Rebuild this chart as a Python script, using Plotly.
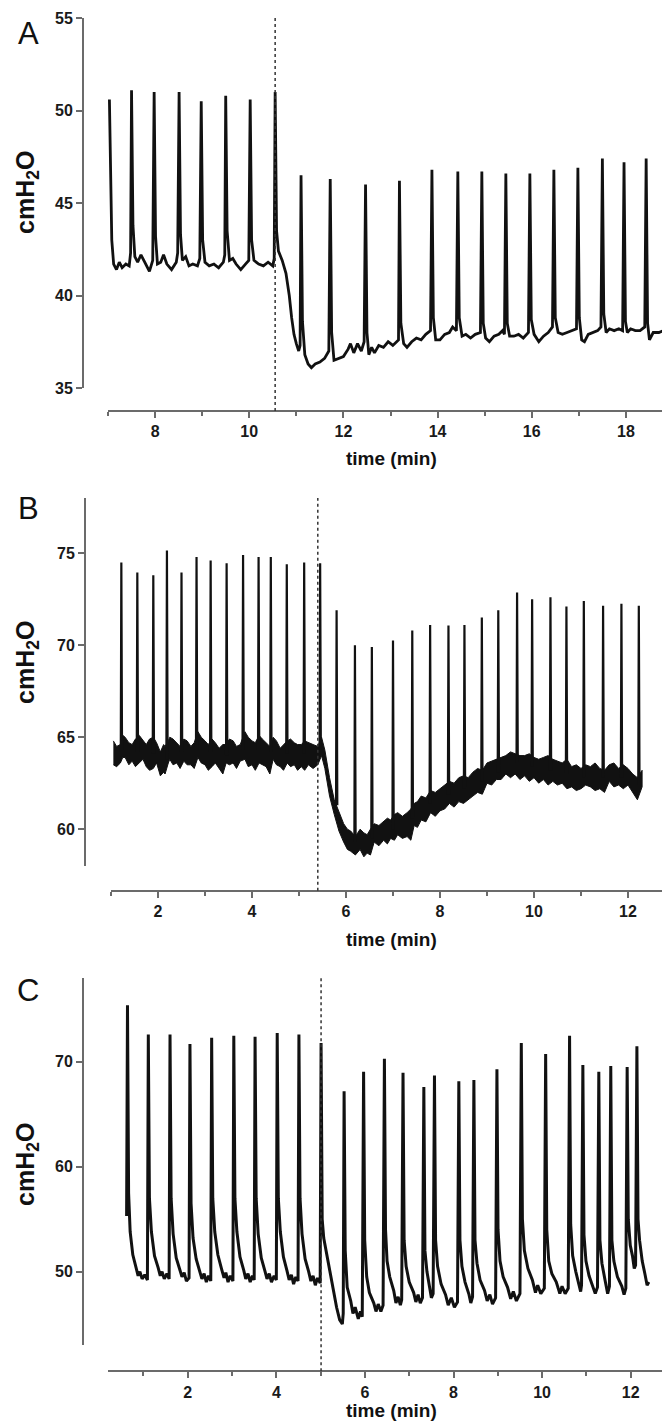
import plotly.graph_objects as go

# ---------------- DATA ----------------
# Panel A
A_spike_t = [7.03, 7.50, 7.98, 8.51, 8.98, 9.50, 10.02, 10.55, 11.10, 11.72, 12.47, 13.19,
             13.88, 14.43, 14.94, 15.45, 15.96, 16.47, 16.98, 17.50, 17.96, 18.43, 18.94]
A_spike_peak = [50.6, 51.1, 51.0, 51.0, 50.5, 50.8, 50.6, 51.0, 46.5, 46.3, 46.0, 46.2,
                46.8, 46.7, 46.7, 46.6, 46.6, 46.8, 46.9, 47.4, 47.2, 47.4, 47.4]
A_base = [
    (7.08, 43.0), (7.12, 41.7), (7.18, 41.4), (7.24, 41.8), (7.30, 41.5), (7.38, 41.7), (7.45, 41.6), (7.48, 42.3),
    (7.53, 43.8), (7.57, 42.1), (7.63, 41.8), (7.70, 42.2), (7.78, 41.8), (7.88, 41.3), (7.95, 41.9),
    (8.01, 43.2), (8.05, 41.7), (8.12, 41.8), (8.18, 42.2), (8.25, 41.7), (8.35, 41.4), (8.45, 41.8), (8.48, 42.3),
    (8.54, 43.3), (8.58, 41.9), (8.65, 42.1), (8.72, 41.6), (8.80, 41.7), (8.90, 41.6), (8.95, 42.0),
    (9.01, 43.0), (9.06, 41.8), (9.15, 41.6), (9.25, 41.7), (9.35, 41.5), (9.45, 41.8), (9.48, 42.2),
    (9.53, 43.5), (9.58, 41.9), (9.65, 42.0), (9.72, 41.7), (9.82, 41.4), (9.92, 41.7), (9.99, 41.9),
    (10.05, 43.0), (10.10, 41.9), (10.20, 41.7), (10.30, 41.6), (10.40, 41.8), (10.50, 41.6), (10.53, 42.0),
    (10.58, 43.5), (10.62, 42.4), (10.70, 41.9), (10.78, 41.2), (10.85, 40.0), (10.90, 38.8), (10.95, 37.9),
    (11.00, 37.4), (11.05, 37.0), (11.08, 37.3),
    (11.13, 38.6), (11.18, 36.8), (11.25, 36.3), (11.32, 36.1), (11.40, 36.3), (11.50, 36.4), (11.60, 36.6), (11.69, 37.0),
    (11.75, 38.0), (11.80, 36.5), (11.90, 36.6), (12.00, 36.7), (12.10, 37.1), (12.15, 37.4), (12.22, 36.9),
    (12.30, 37.4), (12.38, 37.0), (12.44, 37.5),
    (12.50, 38.0), (12.54, 36.8), (12.60, 37.2), (12.66, 36.9), (12.75, 37.3), (12.85, 37.2), (12.95, 37.5),
    (13.05, 37.3), (13.12, 37.5), (13.17, 37.6),
    (13.22, 38.5), (13.28, 37.4), (13.35, 37.2), (13.45, 37.5), (13.55, 37.7), (13.65, 37.6), (13.75, 37.9), (13.85, 38.1),
    (13.91, 38.8), (13.96, 37.6), (14.05, 37.6), (14.15, 37.9), (14.25, 38.0), (14.32, 38.3), (14.40, 38.1),
    (14.46, 38.8), (14.52, 37.8), (14.60, 37.9), (14.70, 37.7), (14.80, 37.9), (14.91, 38.0),
    (14.97, 38.5), (15.02, 37.7), (15.10, 37.5), (15.20, 37.8), (15.30, 37.9), (15.38, 38.1), (15.42, 37.9),
    (15.48, 38.5), (15.53, 37.8), (15.62, 37.8), (15.72, 37.9), (15.82, 37.7), (15.93, 38.0),
    (15.99, 38.7), (16.05, 37.9), (16.15, 37.5), (16.25, 37.8), (16.35, 38.0), (16.44, 38.3),
    (16.50, 38.8), (16.56, 38.0), (16.65, 37.9), (16.75, 38.0), (16.85, 38.1), (16.95, 38.2),
    (17.01, 38.8), (17.06, 37.6), (17.12, 37.5), (17.20, 37.9), (17.30, 38.0), (17.40, 38.1), (17.47, 38.3),
    (17.53, 39.0), (17.58, 38.0), (17.65, 38.2), (17.75, 38.1), (17.85, 38.2), (17.93, 38.1),
    (17.99, 38.6), (18.03, 38.0), (18.10, 38.2), (18.20, 38.1), (18.30, 38.1), (18.40, 38.3),
    (18.46, 38.5), (18.50, 37.6), (18.58, 38.0), (18.70, 38.0), (18.80, 38.1), (18.91, 38.2),
    (18.97, 38.6), (19.00, 38.3),
]

# Panel B
B_spike_t = [1.22, 1.56, 1.90, 2.19, 2.50, 2.82, 3.12, 3.46, 3.81, 4.14, 4.40, 4.74, 5.11, 5.45,
             5.80, 6.19, 6.55, 7.00, 7.41, 7.79, 8.18, 8.52, 8.89, 9.24, 9.64, 9.96, 10.35,
             10.69, 11.06, 11.47, 11.86, 12.23]
B_spike_peak = [74.5, 73.95, 73.8, 75.15, 73.95, 74.8, 74.6, 74.45, 74.9, 74.8, 74.8, 74.4, 74.5, 74.45,
                71.9, 70.0, 69.9, 70.25, 70.8, 71.1, 71.07, 71.1, 71.5, 71.9, 72.86, 72.5, 72.6,
                72.1, 72.4, 72.15, 72.25, 72.15]
B_spike_foot = [64.2, 64.2, 64.1, 63.8, 64.2, 64.3, 64.2, 64.0, 64.3, 64.3, 64.2, 64.1, 64.1, 64.3,
                61.3, 59.3, 59.5, 60.0, 60.6, 61.4, 61.9, 62.2, 62.6, 63.1, 63.6, 63.4, 63.2,
                63.0, 62.8, 62.8, 62.8, 62.4]
B_band_t = [1.05, 1.12, 1.20, 1.25, 1.30, 1.38, 1.45, 1.52, 1.60, 1.68, 1.75, 1.82, 1.90, 1.97,
            2.05, 2.12, 2.15, 2.22, 2.25, 2.32, 2.40, 2.47, 2.55, 2.62, 2.70, 2.77, 2.85, 2.92,
            3.00, 3.07, 3.15, 3.22, 3.30, 3.38, 3.45, 3.52, 3.60, 3.67, 3.75, 3.85, 3.92, 4.00,
            4.07, 4.15, 4.22, 4.30, 4.38, 4.45, 4.52, 4.60, 4.67, 4.75, 4.82, 4.90, 4.97,
            5.05, 5.12, 5.20, 5.30, 5.40, 5.48, 5.55, 5.65, 5.75, 5.85, 5.95, 6.03, 6.10, 6.20,
            6.30, 6.38, 6.45, 6.52, 6.60, 6.70, 6.80, 6.88, 6.95, 7.03, 7.10, 7.20, 7.30, 7.38,
            7.45, 7.52, 7.60, 7.70, 7.80, 7.90, 8.00, 8.10, 8.20, 8.30, 8.40, 8.50, 8.60, 8.70,
            8.80, 8.90, 9.00, 9.10, 9.20, 9.30, 9.40, 9.50, 9.60, 9.70, 9.80, 9.90, 10.00,
            10.10, 10.20, 10.30, 10.40, 10.50, 10.60, 10.70, 10.80, 10.90, 11.00, 11.10, 11.20,
            11.30, 11.40, 11.50, 11.60, 11.70, 11.80, 11.90, 12.00, 12.10, 12.20, 12.30]
B_band_lo = [63.5, 63.4, 63.6, 63.9, 63.9, 63.5, 63.7, 63.4, 63.6, 63.8, 63.4, 63.2, 63.3, 63.6,
             62.9, 63.1, 63.0, 63.6, 63.8, 63.5, 63.6, 63.3, 63.7, 63.5, 63.5, 63.3, 63.9, 63.6,
             63.5, 63.2, 63.4, 63.6, 63.3, 63.0, 63.6, 63.5, 63.6, 63.3, 63.7, 63.8, 63.4, 63.5,
             63.2, 63.6, 63.5, 63.4, 63.0, 63.8, 63.5, 63.4, 63.2, 63.6, 63.4, 63.5, 63.2,
             63.4, 63.2, 63.5, 63.3, 63.5, 64.0, 63.3, 61.8, 60.8, 59.9, 59.3, 58.9, 58.8, 58.6,
             58.9, 58.5, 58.7, 58.6, 59.3, 59.1, 59.4, 59.2, 59.5, 59.4, 59.7, 59.5, 59.6, 59.4,
             60.2, 60.1, 60.5, 60.4, 60.9, 60.7, 61.0, 61.1, 61.4, 61.2, 61.5, 61.4, 61.6, 61.8,
             62.0, 61.9, 62.5, 62.4, 62.7, 62.7, 63.0, 62.8, 63.0, 62.7, 62.9, 62.6, 62.8,
             62.5, 62.7, 62.4, 62.6, 62.4, 62.5, 62.2, 62.3, 62.1, 62.2, 62.4, 62.3,
             62.1, 62.2, 62.0, 62.6, 62.3, 62.4, 62.2, 62.4, 62.0, 61.6, 62.3]
B_band_hi = [64.8, 64.5, 64.6, 65.1, 65.0, 64.7, 64.6, 64.9, 65.1, 64.8, 64.6, 64.9, 65.0, 64.7,
             64.2, 64.6, 64.5, 64.8, 65.0, 64.9, 64.7, 64.5, 64.9, 64.8, 64.5, 64.7, 65.3, 65.0,
             64.8, 64.6, 64.9, 64.7, 64.4, 64.6, 64.6, 64.9, 64.8, 64.5, 64.6, 65.3, 65.0, 64.8,
             64.7, 65.1, 64.9, 64.7, 64.5, 65.0, 64.8, 64.4, 64.6, 64.8, 64.9, 64.7, 64.6,
             64.6, 64.8, 64.7, 64.6, 64.5, 65.0, 64.3, 62.8, 61.6, 61.0, 60.3, 60.0, 59.9, 59.6,
             60.0, 59.8, 59.7, 60.0, 60.3, 60.2, 60.4, 60.6, 60.5, 60.8, 60.9, 60.7, 60.9, 61.1,
             61.4, 61.5, 61.8, 61.7, 62.1, 62.0, 62.2, 62.4, 62.6, 62.5, 62.8, 62.9, 62.8, 63.1,
             63.3, 63.2, 63.6, 63.7, 63.8, 63.9, 64.0, 64.2, 64.1, 64.0, 64.0, 64.1, 63.9,
             63.8, 63.9, 64.0, 63.8, 63.7, 63.6, 63.8, 63.4, 63.5, 63.3, 63.5, 63.4,
             63.6, 63.3, 63.2, 63.5, 63.6, 63.3, 63.5, 63.3, 63.0, 62.8, 63.2]

# Panel C
C_spike_t = [0.64, 1.11, 1.60, 2.05, 2.54, 3.04, 3.52, 4.02, 4.51, 5.01, 5.53, 5.97, 6.44, 6.86,
             7.33, 7.57, 8.12, 8.46, 8.98, 9.53, 10.08, 10.62, 10.92, 11.28, 11.55, 11.92, 12.14]
C_spike_peak = [75.4, 72.6, 72.6, 71.7, 72.3, 72.5, 72.4, 72.75, 72.6, 71.8, 67.2, 69.05, 70.3, 68.96,
                67.6, 68.7, 68.16, 68.26, 69.3, 71.8, 70.76, 72.5, 69.7, 69.05, 69.6, 69.5, 71.5]
C_base = [
    (0.62, 55.3),
    (0.665, 57.5), (0.70, 53.8), (0.76, 51.6), (0.83, 50.4), (0.88, 49.6), (0.92, 50.0), (0.97, 49.3), (1.03, 49.7), (1.09, 49.2),
    (1.135, 57.0), (1.18, 53.8), (1.25, 51.5), (1.33, 50.4), (1.38, 49.6), (1.42, 50.0), (1.47, 49.3), (1.53, 49.8), (1.58, 49.3),
    (1.625, 57.0), (1.67, 53.6), (1.74, 51.3), (1.82, 50.2), (1.87, 49.5), (1.92, 49.9), (1.97, 49.1), (2.03, 49.4),
    (2.075, 56.5), (2.12, 53.2), (2.19, 51.2), (2.27, 50.1), (2.32, 49.3), (2.37, 49.8), (2.42, 49.0), (2.47, 49.6), (2.52, 49.1),
    (2.565, 57.0), (2.61, 53.8), (2.68, 51.6), (2.76, 50.3), (2.82, 49.4), (2.86, 49.9), (2.91, 49.0), (2.96, 49.6), (3.02, 49.1),
    (3.065, 57.0), (3.11, 53.8), (3.18, 51.4), (3.26, 50.2), (3.31, 49.3), (3.36, 49.8), (3.41, 49.0), (3.46, 49.6), (3.50, 49.2),
    (3.545, 57.0), (3.59, 53.6), (3.66, 51.3), (3.74, 50.1), (3.79, 49.3), (3.84, 49.8), (3.89, 49.0), (3.95, 49.6), (4.00, 49.2),
    (4.045, 57.0), (4.09, 53.8), (4.16, 51.4), (4.24, 50.1), (4.29, 49.2), (4.34, 49.7), (4.39, 48.8), (4.44, 49.5), (4.49, 49.1),
    (4.535, 57.0), (4.58, 53.6), (4.65, 51.2), (4.73, 50.0), (4.78, 49.1), (4.83, 49.6), (4.88, 48.7), (4.93, 49.4), (4.99, 48.9),
    (5.035, 55.0), (5.07, 53.2), (5.12, 52.0), (5.20, 50.3), (5.28, 48.3), (5.36, 46.6), (5.43, 45.4),
    (5.49, 45.0), (5.51, 46.0),
    (5.555, 52.0), (5.60, 48.5), (5.68, 47.2), (5.73, 46.0), (5.78, 46.6), (5.85, 45.5), (5.90, 46.2), (5.94, 45.7),
    (5.995, 53.0), (6.04, 49.5), (6.10, 48.0), (6.20, 47.0), (6.25, 46.2), (6.30, 46.9), (6.36, 46.2), (6.41, 46.8),
    (6.465, 54.0), (6.50, 51.0), (6.56, 49.5), (6.65, 48.2), (6.70, 47.0), (6.75, 47.6), (6.80, 46.8), (6.83, 47.3),
    (6.885, 53.0), (6.93, 50.5), (7.00, 49.0), (7.10, 48.0), (7.15, 47.1), (7.20, 47.8), (7.25, 47.0), (7.30, 47.5),
    (7.355, 52.0), (7.40, 50.0), (7.46, 48.5), (7.50, 47.5), (7.54, 47.9),
    (7.595, 53.0), (7.64, 50.5), (7.72, 48.8), (7.82, 47.8), (7.88, 46.8), (7.95, 47.5), (8.02, 46.6), (8.09, 47.1),
    (8.145, 53.0), (8.19, 50.5), (8.26, 49.0), (8.35, 47.8), (8.39, 47.0), (8.43, 47.6),
    (8.485, 53.0), (8.53, 50.8), (8.60, 49.2), (8.70, 48.2), (8.76, 47.2), (8.82, 47.8), (8.88, 46.9), (8.95, 47.5),
    (9.005, 54.0), (9.05, 51.0), (9.12, 49.5), (9.22, 48.5), (9.29, 47.4), (9.35, 48.1), (9.42, 47.2), (9.50, 47.9),
    (9.555, 55.0), (9.60, 52.0), (9.68, 50.3), (9.78, 49.2), (9.85, 48.0), (9.90, 48.7), (9.97, 47.9), (10.05, 48.4),
    (10.105, 54.0), (10.15, 51.0), (10.22, 49.8), (10.32, 49.0), (10.40, 47.9), (10.45, 48.6), (10.52, 47.9), (10.59, 48.4),
    (10.645, 54.5), (10.69, 51.5), (10.76, 50.0), (10.84, 48.8), (10.87, 48.1), (10.89, 48.7),
    (10.945, 53.5), (10.99, 51.0), (11.06, 49.6), (11.15, 48.6), (11.20, 47.9), (11.25, 48.5),
    (11.305, 53.0), (11.35, 50.8), (11.42, 49.2), (11.48, 47.9), (11.52, 48.6),
    (11.575, 53.0), (11.62, 51.0), (11.70, 49.5), (11.80, 48.6), (11.85, 47.8), (11.89, 48.4),
    (11.945, 55.0), (11.99, 52.5), (12.04, 51.5), (12.08, 50.3), (12.11, 50.6),
    (12.165, 55.0), (12.20, 53.0), (12.26, 51.0), (12.32, 49.8), (12.37, 48.7), (12.41, 49.0),
]

# Event markers (dashed vertical lines), one per panel
event_t = [10.55, 5.40, 5.01]
panel_labels = ["A", "B", "C"]
x_ranges = [[7, 19], [1, 13], [0.2, 13.0]]
y_ranges = [[35, 55], [58, 78], [43, 78]]
y_dticks = [5, 5, 10]
x_title = "time (min)"
y_title = "cmH<sub>2</sub>O"

# ---------------- FIGURE ----------------
W, H = 670, 1422
FONT = "Liberation Sans, Arial, Helvetica, sans-serif"
AX = "#6b6b6b"
TRACE = "#111111"


def merge(spike_t, spike_peak, base):
    pts = sorted(list(zip(spike_t, spike_peak)) + list(base), key=lambda p: p[0])
    return [p[0] for p in pts], [p[1] for p in pts]


fig = go.Figure()

# Panel A trace
ax_t, ax_v = merge(A_spike_t, A_spike_peak, A_base)
fig.add_trace(go.Scatter(x=ax_t, y=ax_v, mode="lines", line=dict(color=TRACE, width=2.8),
                         xaxis="x", yaxis="y", showlegend=False, hoverinfo="skip"))

# Panel B noisy baseline band + spikes
band_x = B_band_t + B_band_t[::-1]
band_y = B_band_hi + B_band_lo[::-1]
fig.add_trace(go.Scatter(x=band_x, y=band_y, mode="lines", fill="toself", fillcolor=TRACE,
                         line=dict(color=TRACE, width=1), xaxis="x2", yaxis="y2",
                         showlegend=False, hoverinfo="skip"))
sx, sy = [], []
for t, p, f in zip(B_spike_t, B_spike_peak, B_spike_foot):
    sx += [t - 0.012, t, t + 0.015, None]
    sy += [f, p, f, None]
fig.add_trace(go.Scatter(x=sx, y=sy, mode="lines", line=dict(color=TRACE, width=2.2),
                         xaxis="x2", yaxis="y2", showlegend=False, hoverinfo="skip"))

# Panel C trace
cx_t, cx_v = merge(C_spike_t, C_spike_peak, C_base)
fig.add_trace(go.Scatter(x=cx_t, y=cx_v, mode="lines", line=dict(color=TRACE, width=3.0),
                         xaxis="x3", yaxis="y3", showlegend=False, hoverinfo="skip"))

# layout geometry (pixel positions of each panel)
geo = [
    dict(xd=(100, 665), yd=(10, 380), xpos=403, ypos=75, ytitle=185, label=25, xt=451),
    dict(xd=(103, 667), yd=(490, 858), xpos=882.7, ypos=77, ytitle=655, label=500, xt=931),
    dict(xd=(100, 667), yd=(970, 1337), xpos=1363.3, ypos=75, ytitle=1157, label=983, xt=1402),
]

tickfont = dict(family=FONT, size=16, color="#1a1a1a", weight="bold")
layout = dict(width=W, height=H, margin=dict(l=0, r=0, t=0, b=0),
              paper_bgcolor="white", plot_bgcolor="white", template="none",
              showlegend=False)
shapes, annotations = [], []
for i, g in enumerate(geo):
    sfx = "" if i == 0 else str(i + 1)
    layout["xaxis" + sfx] = dict(
        domain=[g["xd"][0] / W, g["xd"][1] / W], range=x_ranges[i],
        anchor="free", position=1 - g["xpos"] / H,
        showline=True, linecolor=AX, linewidth=2, mirror=False,
        ticks="outside", ticklen=6, tickwidth=2, tickcolor=AX,
        tick0=0, dtick=2, tickfont=tickfont, showgrid=False, zeroline=False,
        automargin=False,
        minor=dict(dtick=1, tick0=0, ticks="outside", ticklen=4, tickwidth=2,
                   tickcolor=AX, showgrid=False),
    )
    layout["yaxis" + sfx] = dict(
        domain=[1 - g["yd"][1] / H, 1 - g["yd"][0] / H], range=y_ranges[i],
        anchor="free", position=g["ypos"] / W,
        showline=True, linecolor=AX, linewidth=2,
        ticks="outside", ticklen=6, tickwidth=2, tickcolor=AX,
        tick0=0, dtick=y_dticks[i], tickfont=tickfont, showgrid=False, zeroline=False,
        automargin=False,
    )
    shapes.append(dict(type="line", xref="x" + sfx, yref="paper",
                       x0=event_t[i], x1=event_t[i],
                       y0=1 - g["xpos"] / H, y1=1 - g["yd"][0] / H,
                       line=dict(color="#333333", width=1.5, dash="dot")))
    annotations.append(dict(text=panel_labels[i], xref="paper", yref="paper",
                            x=20 / W, y=1 - g["label"] / H, showarrow=False,
                            xanchor="center", yanchor="middle",
                            font=dict(family=FONT, size=31, color="#111111")))
    annotations.append(dict(text=y_title, xref="paper", yref="paper",
                            x=19 / W, y=1 - g["ytitle"] / H, showarrow=False,
                            textangle=-90, xanchor="center", yanchor="middle",
                            font=dict(family=FONT, size=25, color="#111111", weight="bold")))
    annotations.append(dict(text=x_title, xref="paper", yref="paper",
                            x=383 / W, y=1 - g["xt"] / H, showarrow=False,
                            xanchor="center", yanchor="middle",
                            font=dict(family=FONT, size=19, color="#111111", weight="bold")))

layout["shapes"] = shapes
layout["annotations"] = annotations
fig.update_layout(**layout)
fig.write_html("out.html")
